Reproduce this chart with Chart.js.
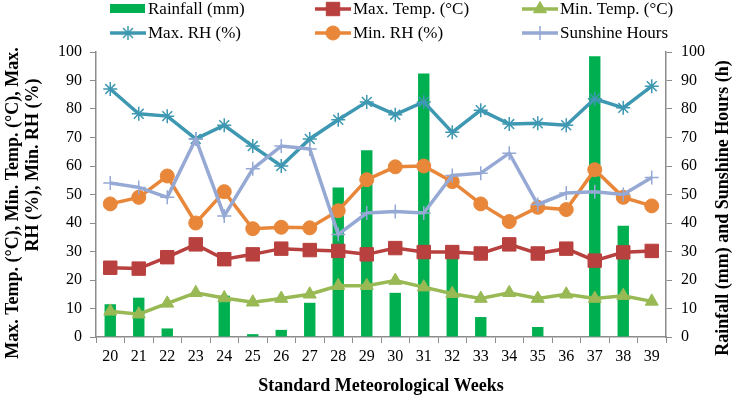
<!DOCTYPE html>
<html>
<head>
<meta charset="utf-8">
<script src="https://cdn.jsdelivr.net/npm/chart.js@4"></script>
<style>
  html, body { margin: 0; padding: 0; background: #fff; }
  #wrap { width: 745px; height: 401px; }
</style>
</head>
<body>
<div id="wrap"><canvas id="chart" width="745" height="401"></canvas></div>
<script>
// Weekly weather data
const weeks = ['20', '21', '22', '23', '24', '25', '26', '27', '28', '29',
               '30', '31', '32', '33', '34', '35', '36', '37', '38', '39'];
const rainfall = [11.5, 13.8, 3, 0, 14.5, 1, 2.5, 12, 52.5, 65.5,
                  15.5, 92.5, 28, 7, 0, 3.5, 0, 98.5, 39, 0];
const maxTemp = [24.3, 24, 28, 32.5, 27.3, 29, 31, 30.5, 30.2, 29,
                 31.2, 29.8, 29.8, 29.3, 32.5, 29.3, 31, 26.8, 29.7, 30.2];
const minTemp = [9, 8, 11.8, 15.5, 13.7, 12.2, 13.5, 15, 18, 18,
                 19.8, 17.5, 15.2, 13.5, 15.5, 13.5, 15, 13.5, 14.5, 12.5];
const maxRH = [87, 78.3, 77.5, 69.5, 74.3, 67, 60, 69.5, 76.2, 82.5,
               78, 82.5, 71.8, 79.6, 74.7, 75, 74.3, 83.6, 80.4, 88];
const minRH = [46.7, 49, 56.5, 40, 51, 38, 38.5, 38.3, 44.3, 55.2,
               59.7, 60, 54.5, 46.7, 40.5, 45.5, 44.7, 58.7, 49, 46];
const sunshine = [54, 52.5, 49, 69.5, 42.5, 59, 67, 66, 36, 43.5,
                  44, 43.5, 56.7, 57.5, 64.5, 46.5, 50.5, 51, 50, 56];

const serif = "'Liberation Serif', 'Times New Roman', serif";

function lineSet(label, data, color, style, radius, order, extra) {
    return Object.assign({
        type: 'line',
        label: label,
        data: data,
        yAxisID: 'y',
        borderColor: color,
        backgroundColor: color,
        borderWidth: 3.5,
        pointStyle: style,
        pointRadius: radius,
        pointBorderColor: color,
        pointBackgroundColor: color,
        pointBorderWidth: 1,
        tension: 0,
        order: order
    }, extra || {});
}

// legend in a 3 column grid, plus the two vertical axis titles
const legendGrid = {
    id: 'legendGrid',
    afterDraw(chart) {
        const ctx = chart.ctx;
        const cols = [110, 315, 522];
        const rows = [9, 33];
        ctx.save();
        ctx.font = '17px ' + serif;
        ctx.textBaseline = 'middle';
        chart.data.datasets.forEach((ds, i) => {
            const x = cols[i % 3], y = rows[Math.floor(i / 3)];
            if (ds.type === 'bar') {
                ctx.fillStyle = ds.backgroundColor;
                ctx.fillRect(x, y - 5, 35, 9);
            } else {
                ctx.strokeStyle = ds.borderColor;
                ctx.lineWidth = 3.5;
                ctx.beginPath();
                ctx.moveTo(x, y);
                ctx.lineTo(x + 36, y);
                ctx.stroke();
                ctx.fillStyle = ds.pointBackgroundColor;
                ctx.lineWidth = ds.pointBorderWidth;
                Chart.helpers.drawPoint(ctx, {
                    pointStyle: ds.pointStyle, radius: ds.pointRadius, rotation: 0, borderWidth: ds.pointBorderWidth
                }, x + 18, y);
            }
            ctx.fillStyle = '#000';
            ctx.textAlign = 'left';
            ctx.fillText(ds.label, x + 38, y + 1);
        });

        ctx.font = 'bold 18px ' + serif;
        ctx.fillStyle = '#000';
        ctx.textAlign = 'center';
        ctx.save();
        ctx.translate(13, 203);
        ctx.rotate(-Math.PI / 2);
        ctx.fillText('Max. Temp. (°C), Min. Temp. (°C), Max.', 0, 0);
        ctx.restore();
        ctx.save();
        ctx.translate(33, 165);
        ctx.rotate(-Math.PI / 2);
        ctx.fillText('RH (%), Min. RH (%)', 0, 0);
        ctx.restore();
        ctx.save();
        ctx.translate(723, 208);
        ctx.rotate(-Math.PI / 2);
        ctx.fillText('Rainfall (mm) and Sunshine Hours (h)', 0, 0);
        ctx.restore();
        ctx.restore();
    }
};

const axisGrey = '#8c8c8c';

new Chart(document.getElementById('chart'), {
    data: {
        labels: weeks,
        datasets: [
            {
                type: 'bar',
                label: 'Rainfall (mm)',
                data: rainfall,
                yAxisID: 'y1',
                backgroundColor: '#00b050',
                barPercentage: 0.4,
                categoryPercentage: 1,
                order: 10
            },
            lineSet('Max. Temp. (°C)', maxTemp, '#b8403e', 'rect', 9.5, 6),
            lineSet('Min. Temp. (°C)', minTemp, '#98b954', 'triangle', 7.5, 5),
            lineSet('Max. RH (%)', maxRH, '#3f98b2', 'star', 7, 4, { pointBorderWidth: 1.5 }),
            lineSet('Min. RH (%)', minRH, '#e8873a', 'circle', 7, 3),
            lineSet('Sunshine Hours', sunshine, '#95a9d4', 'cross', 7, 2, { pointBorderWidth: 1.5, yAxisID: 'y1' })
        ]
    },
    options: {
        responsive: false,
        animation: false,
        layout: { padding: { top: 52, right: 0, left: 0, bottom: 0 } },
        plugins: {
            legend: { display: false },
            tooltip: { enabled: false }
        },
        scales: {
            x: {
                offset: true,
                grid: { display: true, drawOnChartArea: false, offset: true, tickLength: 6, color: axisGrey },
                border: { color: axisGrey, width: 1.5 },
                ticks: { color: '#000', font: { family: serif, size: 16 }, padding: 4, maxRotation: 0 },
                title: {
                    display: true, text: 'Standard Meteorological Weeks', color: '#000',
                    font: { family: serif, size: 18, weight: 'bold' }, padding: { top: 12, bottom: 4 }
                },
                afterFit: s => { s.height = 64; }
            },
            y: {
                position: 'left',
                min: 0, max: 100,
                grid: { display: true, drawOnChartArea: false, tickLength: 6, color: axisGrey },
                border: { color: axisGrey, width: 1.5 },
                ticks: { stepSize: 10, color: '#000', font: { family: serif, size: 16 }, padding: 8 },
                afterFit: s => { s.width = 96; }
            },
            y1: {
                position: 'right',
                min: 0, max: 100,
                grid: { display: true, drawOnChartArea: false, tickLength: 6, color: axisGrey },
                border: { color: axisGrey, width: 1.5 },
                ticks: { stepSize: 10, color: '#000', font: { family: serif, size: 16 }, padding: 9 },
                afterFit: s => { s.width = 79; }
            }
        }
    },
    plugins: [legendGrid]
});
</script>
</body>
</html>
